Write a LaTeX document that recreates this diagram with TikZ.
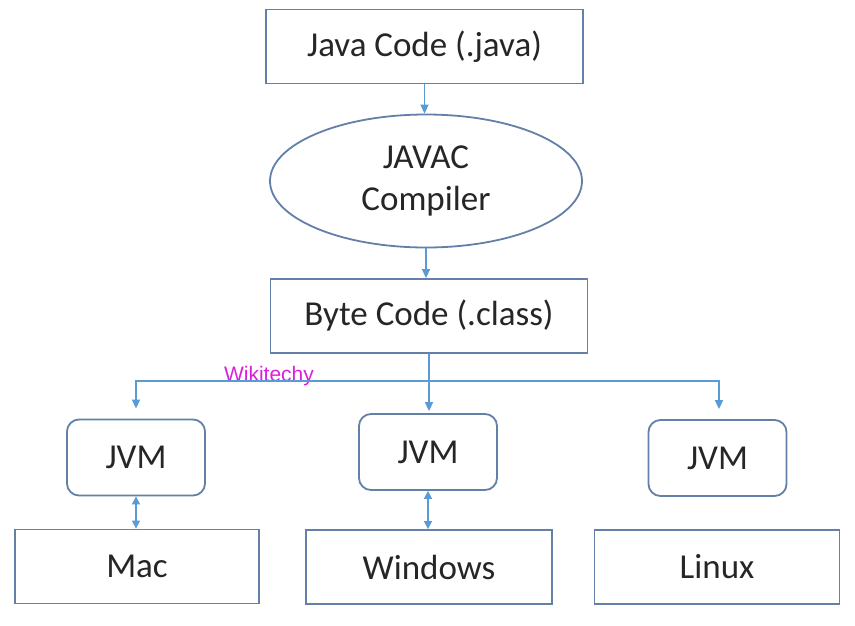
\documentclass[tikz,border=0pt]{standalone}
\usepackage{fontspec}
\setmainfont{Carlito}
\newfontfamily\wikifont{Liberation Sans}
\usetikzlibrary{shapes.geometric, arrows.meta, calc}
\definecolor{boxBlue}{RGB}{98, 128, 168}
\definecolor{arrowBlue}{RGB}{91, 155, 213}
\definecolor{wikiMagenta}{RGB}{220, 30, 220}

\begin{document}
\begin{tikzpicture}[x=1pt, y=-1pt,
    codebox/.style={draw=boxBlue, line width=1.8pt, inner sep=0pt, minimum width=317pt, minimum height=74pt, font=\fontsize{35}{40}\selectfont, text=black!85},
    jvmbox/.style={draw=boxBlue, line width=1.8pt, rounded corners=12pt, inner sep=0pt, minimum width=138pt, minimum height=76pt, font=\fontsize{35}{40}\selectfont, text=black!85},
    osbox/.style={draw=boxBlue, line width=1.8pt, inner sep=0pt, minimum width=245pt, minimum height=74pt, font=\fontsize{35}{40}\selectfont, text=black!85},
    arr/.style={draw=arrowBlue, line width=1.5pt, -{Triangle[length=9pt, width=8pt]}},
    dblarr/.style={draw=arrowBlue, line width=1.5pt, {Triangle[length=8pt, width=8pt]}-{Triangle[length=8pt, width=8pt]}}]
    \useasboundingbox (0,0) rectangle (855,625);
    \fill[white] (0,0) rectangle (855,625);

    % compile stage
    \node[codebox] (java) at (424.5,46.5) {Java Code (.java)};
    \node[ellipse, draw=boxBlue, line width=1.8pt, inner sep=0pt, minimum width=312pt, minimum height=133pt, align=center, font=\fontsize{35}{42}\selectfont, text=black!85] (javac) at (426,181) {JAVAC\\Compiler};
    \node[codebox] (byte) at (429,316) {Byte Code (.class)};

    % virtual machines
    \node[jvmbox] (jvml) at (136,457.5) {JVM};
    \node[jvmbox] (jvmm) at (428,452) {JVM};
    \node[jvmbox] (jvmr) at (717.5,458) {JVM};

    % platforms
    \node[osbox, minimum width=244pt] (mac) at (137,566.5) {Mac};
    \node[osbox, minimum width=246pt] (win) at (429,567) {Windows};
    \node[osbox] (linux) at (717,567) {Linux};

    \node[font=\wikifont\fontsize{21}{24}\selectfont, text=wikiMagenta] (wiki) at (269,376) {Wikitechy};

    \coordinate (split) at (429,381);

    \draw[arr] (java.south) -- (java.south |- javac.north);
    \draw[arr] (javac.south) -- (javac.south |- byte.north);
    \draw[arr, shorten >=2pt] (byte.south) -- (byte.south |- jvmm.north);
    \draw[arr, shorten >=10pt] (split) -| (jvml.north);
    \draw[arr, shorten >=10pt] (split) -| ($(jvmr.north)+(1.5,0)$);
    \draw[dblarr] (jvml.south) -- (jvml.south |- mac.north);
    \draw[dblarr] (jvmm.south) -- (jvmm.south |- win.north);
\end{tikzpicture}
\end{document}
